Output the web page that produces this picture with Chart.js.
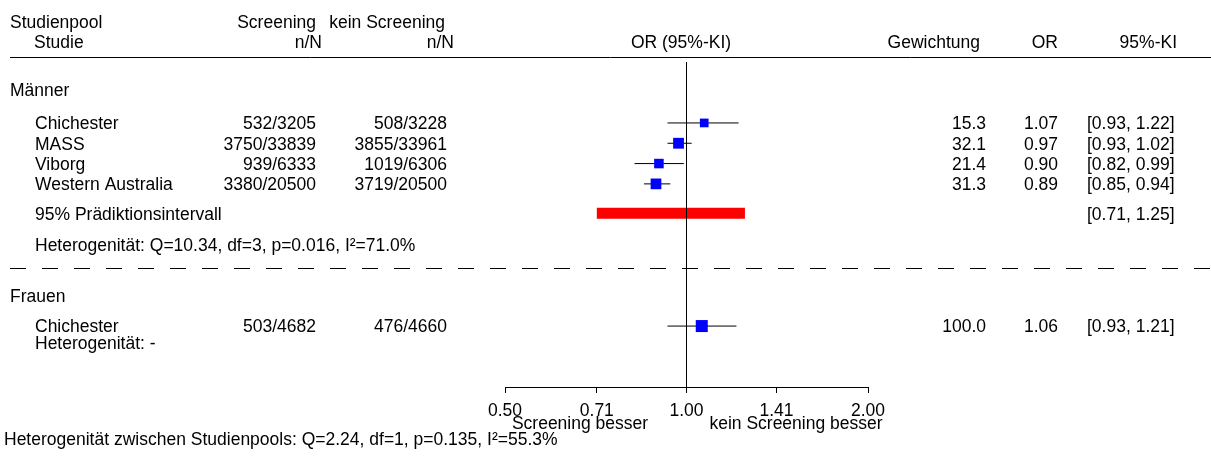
<!DOCTYPE html>
<html>
<head>
<meta charset="utf-8">
<script src="https://cdn.jsdelivr.net/npm/chart.js@4/dist/chart.umd.min.js"></script>
<style>
 body { margin: 0; background: #fff; }
 canvas { display: block; }
</style>
</head>
<body>
<canvas id="forest" width="1211" height="457"></canvas>
<script>
// Daten
const groups = ["Männer", "Männer", "Männer", "Männer", "Frauen"];
const studies = ["Chichester", "MASS", "Viborg", "Western Australia", "Chichester"];
const screenEvents = [532, 3750, 939, 3380, 503];
const screenTotal = [3205, 33839, 6333, 20500, 4682];
const ctrlEvents = [508, 3855, 1019, 3719, 476];
const ctrlTotal = [3228, 33961, 6306, 20500, 4660];
const weights = [15.3, 32.1, 21.4, 31.3, 100.0];
const oddsRatios = [1.07, 0.97, 0.90, 0.89, 1.06];
const ciLow = [0.93, 0.93, 0.82, 0.85, 0.93];
const ciHigh = [1.22, 1.02, 0.99, 0.94, 1.21];
const predLow = 0.71;
const predHigh = 1.25;
const tickValues = [0.5, 0.71, 1, 1.41, 2];
const hetMen = "Heterogenität: Q=10.34, df=3, p=0.016, I²=71.0%";
const hetWomen = "Heterogenität: -";
const hetBetween = "Heterogenität zwischen Studienpools: Q=2.24, df=1, p=0.135, I²=55.3%";

// Layout (Zeilen in Einheiten der y-Achse)
const studyRows = [3, 4, 5, 6, 13];
const groupRows = { "Männer": 1.37, "Frauen": 11.5 };
const predRow = 7.45;
const hetRows = [9.0, 13.8];
const dashRow = 10.16;
const FONT = '17.5px "Liberation Sans", Arial, sans-serif';

function squareSide(w) {
 return Math.min(12, 4 + 1.2 * Math.sqrt(w));
}

const datasets = [{
 label: "OR",
 data: studies.map((s, i) => ({ x: oddsRatios[i], y: studyRows[i] })),
 pointStyle: "rect",
 pointRadius: (ctx) => squareSide(weights[ctx.dataIndex]) / Math.SQRT2,
 backgroundColor: "#0000ff",
 borderWidth: 0,
 order: 0
}];

studies.forEach((s, i) => {
 datasets.push({
 label: s,
 data: [{ x: ciLow[i], y: studyRows[i] }, { x: ciHigh[i], y: studyRows[i] }],
 showLine: true,
 borderColor: "#000",
 borderWidth: 1,
 pointRadius: 0,
 order: 1
 });
});

datasets.push({
 label: "Prädiktionsintervall",
 data: [{ x: predLow, y: predRow }, { x: predHigh, y: predRow }],
 showLine: true,
 borderColor: "#ff0000",
 borderWidth: 11,
 borderCapStyle: "butt",
 pointRadius: 0,
 order: 1
});

const textPlugin = {
 id: "forestText",
 afterDatasetsDraw(chart) {
 const { ctx, chartArea } = chart;
 const x = chart.scales.x.getPixelForValue(1);
 ctx.save();
 ctx.strokeStyle = "#000";
 ctx.lineWidth = 1;
 ctx.beginPath();
 ctx.moveTo(x, chartArea.top);
 ctx.lineTo(x, chartArea.bottom);
 ctx.stroke();
 ctx.restore();
 },
 afterDraw(chart) {
 const { ctx, chartArea } = chart;
 const yS = chart.scales.y;
 const W = chart.width;
 const off = 6.3;

 function txt(s, x, y, align) {
 ctx.textAlign = align || "left";
 ctx.fillText(s, x, y + off);
 }
 function row(r) { return yS.getPixelForValue(r); }

 ctx.save();
 ctx.font = FONT;
 ctx.fillStyle = "#000";
 ctx.textBaseline = "alphabetic";

 // Kopfzeile
 txt("Studienpool", 10, row(-2));
 txt("Screening", 316, row(-2), "right");
 txt("kein Screening", 445, row(-2), "right");
 txt("Studie", 34, row(-1));
 txt("n/N", 322, row(-1), "right");
 txt("n/N", 454, row(-1), "right");
 txt("OR (95%-KI)", 681, row(-1), "center");
 txt("Gewichtung", 980, row(-1), "right");
 txt("OR", 1058, row(-1), "right");
 txt("95%-KI", 1177, row(-1), "right");

 ctx.strokeStyle = "#000";
 ctx.lineWidth = 1;
 ctx.beginPath();
 ctx.moveTo(10, Math.round(row(-0.25)) + 0.5);
 ctx.lineTo(W, Math.round(row(-0.25)) + 0.5);
 ctx.stroke();

 // Gruppen
 Object.keys(groupRows).forEach((g) => txt(g, 10, row(groupRows[g])));

 // Studien
 studies.forEach((s, i) => {
 const y = row(studyRows[i]);
 txt(s, 35, y);
 txt(screenEvents[i] + "/" + screenTotal[i], 316, y, "right");
 txt(ctrlEvents[i] + "/" + ctrlTotal[i], 447, y, "right");
 txt(weights[i].toFixed(1), 986, y, "right");
 txt(oddsRatios[i].toFixed(2), 1058, y, "right");
 txt("[" + ciLow[i].toFixed(2) + ", " + ciHigh[i].toFixed(2) + "]", 1087, y);
 });

 txt("95% Prädiktionsintervall", 35, row(predRow));
 txt("[" + predLow.toFixed(2) + ", " + predHigh.toFixed(2) + "]", 1087, row(predRow));
 txt(hetMen, 35, row(hetRows[0]));
 txt(hetWomen, 35, row(hetRows[1]));

 ctx.setLineDash([16, 16]);
 ctx.beginPath();
 ctx.moveTo(10, Math.round(row(dashRow)) + 0.5);
 ctx.lineTo(W, Math.round(row(dashRow)) + 0.5);
 ctx.stroke();
 ctx.setLineDash([]);

 // unter der Achse
 const b = chartArea.bottom;
 txt("Screening besser", 580, b + 35.5, "center");
 txt("kein Screening besser", 796, b + 35.5, "center");
 txt(hetBetween, 4, b + 52);
 ctx.restore();
 }
};

new Chart(document.getElementById("forest"), {
 type: "scatter",
 data: { datasets },
 options: {
 responsive: false,
 animation: false,
 devicePixelRatio: 1,
 layout: { padding: { left: 505, right: 343, top: 62, bottom: 27 } },
 plugins: { legend: { display: false }, tooltip: { enabled: false } },
 scales: {
 x: {
 type: "logarithmic",
 min: 0.5,
 max: 2,
 afterBuildTicks: (axis) => { axis.ticks = tickValues.map((v) => ({ value: v })); },
 ticks: {
 color: "#000",
 font: { family: '"Liberation Sans", Arial, sans-serif', size: 17.5 },
 padding: 8,
 maxRotation: 0,
 autoSkip: false,
 callback: (v) => Number(v).toFixed(2)
 },
 grid: { drawOnChartArea: false, color: "#000", tickLength: 6 },
 border: { color: "#000", width: 1 }
 },
 y: {
 type: "linear",
 display: false,
 min: 0,
 max: 16,
 reverse: true
 }
 }
 },
 plugins: [textPlugin]
});
</script>
</body>
</html>
